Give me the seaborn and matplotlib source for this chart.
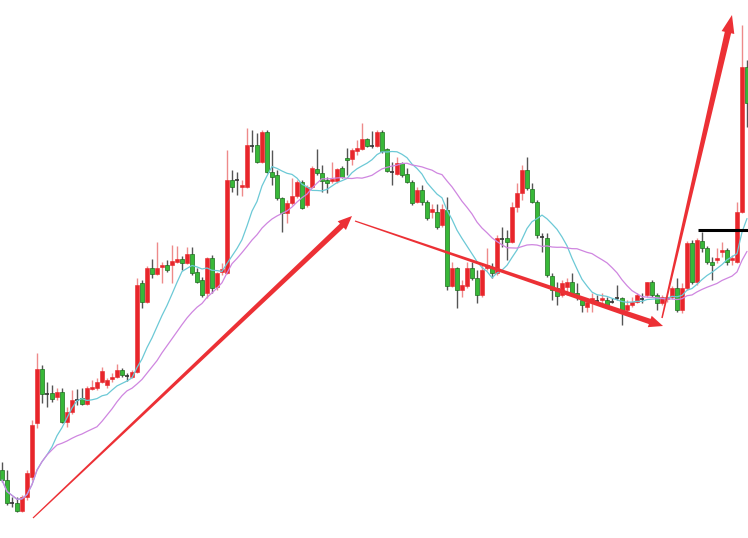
import numpy as np
import pandas as pd
import matplotlib
matplotlib.use("Agg")
import matplotlib.pyplot as plt
from matplotlib.patches import Polygon
import seaborn as sns

# OHLC (one bar per session)
opens = [70, 60, 38, 37, 29, 43, 63, 117, 171, 147, 147, 143, 148, 118, 128, 141, 142, 136, 151, 152,
         158, 155, 161, 163, 170, 164, 163, 168, 257, 238, 272, 266, 273, 275, 275, 278, 281, 277, 286, 268,
         260, 247, 282, 253, 268, 267, 360, 361, 353, 353, 395, 395, 378, 408, 368, 365, 342, 327, 337, 344,
         358, 335, 353, 371, 367, 360, 359, 359, 372, 382, 381, 389, 391, 401, 395, 394, 408, 391, 369, 366,
         377, 366, 358, 338, 350, 338, 328, 328, 315, 330, 254, 272, 250, 254, 272, 262, 245, 272, 272, 267,
         302, 302, 298, 333, 347, 370, 351, 338, 304, 302, 264, 252, 245, 253, 258, 247, 240, 233, 240, 240,
         240, 240, 239, 242, 242, 230, 235, 238, 242, 245, 258, 245, 237, 241, 243, 252, 230, 252, 297, 258,
         299, 292, 278, 280, 288, 290, 280, 278, 328, 473]
closes = [60, 37, 37, 29, 43, 67, 115, 171, 146, 146, 141, 148, 118, 128, 140, 140, 136, 152, 153, 158,
          169, 160, 163, 170, 165, 164, 168, 255, 238, 272, 266, 272, 275, 270, 279, 281, 277, 286, 267, 258,
          245, 282, 252, 267, 271, 360, 353, 360, 355, 395, 394, 378, 408, 368, 363, 342, 327, 337, 344, 358,
          332, 353, 372, 367, 359, 357, 361, 371, 363, 380, 390, 392, 401, 394, 394, 408, 389, 369, 368, 377,
          365, 358, 337, 350, 338, 322, 331, 313, 331, 254, 272, 250, 255, 272, 262, 245, 270, 275, 267, 302,
          301, 298, 333, 347, 370, 352, 338, 305, 303, 265, 250, 244, 257, 258, 247, 243, 235, 238, 242, 239,
          242, 235, 238, 243, 230, 235, 238, 245, 241, 258, 245, 237, 243, 243, 252, 230, 252, 297, 258, 300,
          292, 278, 275, 282, 290, 278, 282, 328, 473, 437]
highs = [78, 70, 43, 43, 45, 70, 120, 187, 175, 158, 155, 152, 152, 133, 150, 151, 152, 154, 160, 162,
         173, 162, 167, 176, 172, 167, 170, 262, 260, 274, 281, 298, 278, 280, 295, 294, 284, 293, 293, 272,
         263, 283, 285, 268, 277, 390, 370, 368, 360, 412, 410, 407, 410, 410, 390, 370, 343, 340, 362, 360,
         360, 355, 374, 391, 375, 363, 378, 372, 374, 392, 392, 400, 417, 402, 409, 410, 410, 392, 378, 383,
         378, 372, 360, 353, 355, 340, 336, 336, 336, 343, 278, 273, 260, 278, 278, 270, 275, 292, 277, 305,
         313, 310, 338, 357, 375, 383, 357, 340, 307, 307, 267, 258, 260, 262, 267, 257, 242, 242, 247, 245,
         247, 243, 242, 255, 243, 240, 243, 247, 247, 258, 260, 247, 245, 244, 254, 262, 257, 299, 300, 302,
         308, 294, 283, 292, 298, 292, 285, 338, 515, 480]
lows = [58, 35, 33, 28, 28, 40, 60, 112, 137, 133, 138, 140, 117, 113, 126, 135, 135, 135, 150, 150,
        157, 152, 158, 162, 163, 159, 162, 167, 232, 237, 262, 265, 257, 268, 257, 277, 270, 276, 265, 257,
        243, 242, 247, 250, 265, 266, 348, 345, 344, 352, 388, 377, 377, 367, 355, 340, 308, 317, 335, 342,
        331, 333, 352, 365, 348, 347, 357, 357, 362, 365, 375, 385, 390, 393, 392, 393, 387, 368, 355, 365,
        363, 357, 335, 337, 335, 320, 322, 311, 313, 250, 253, 232, 243, 252, 260, 237, 243, 270, 262, 265,
        293, 280, 297, 328, 340, 350, 337, 302, 288, 263, 240, 235, 243, 245, 246, 240, 228, 228, 228, 237,
        237, 233, 237, 240, 215, 228, 233, 237, 237, 243, 243, 230, 235, 238, 241, 228, 227, 250, 256, 255,
        288, 276, 260, 277, 283, 275, 275, 277, 327, 413]

# trend arrows drawn on the chart: (start bar, start price, end bar, end price)
arrow_start = [(6.2, 22), (70.6, 319), (132.0, 222)]
arrow_end = [(70.0, 324), (132.2, 214), (146.0, 525)]
resistance = (139.2, 310)

df = pd.DataFrame({"open": opens, "high": highs, "low": lows, "close": closes})
df["bar"] = np.arange(len(df))
df["ma_fast"] = df["close"].rolling(10, min_periods=1).mean()
df["ma_slow"] = df["close"].rolling(20, min_periods=1).mean()

sns.set_style("white")
fig = plt.figure(figsize=(7.48, 5.38), dpi=100)
ax = fig.add_axes([0, 0, 1, 1])
ax.set_xlim(-0.4, 149.2)
ax.set_ylim(2, 540)
ax.axis("off")

up = df["close"] > df["open"]
down = df["close"] < df["open"]
doji = (df["close"] - df["open"]).abs() <= 1

red, red_wick = "#e8262b", "#ee8a8a"
green, green_edge = "#38b838", "#1d6e1d"

# wicks
ax.vlines(df["bar"][up & ~doji], df["low"][up & ~doji], df["high"][up & ~doji], color=red_wick, lw=1.0, zorder=1)
ax.vlines(df["bar"][~up | doji], df["low"][~up | doji], df["high"][~up | doji], color="#555555", lw=1.0, zorder=1)

# bodies
w = 0.64
u = df[up & ~doji]
ax.bar(u["bar"], u["close"] - u["open"], bottom=u["open"], width=w, color=red, edgecolor=red, lw=0.4, zorder=2)
d = df[down & ~doji]
ax.bar(d["bar"], d["open"] - d["close"], bottom=d["close"], width=w, color=green, edgecolor=green_edge, lw=0.5, zorder=2)
z = df[doji]
ax.hlines((z["open"] + z["close"]) / 2, z["bar"] - w / 2, z["bar"] + w / 2, color="#333333", lw=1.2, zorder=2)

# moving averages
sns.lineplot(data=df, x="bar", y="ma_fast", color="#6cc9d6", lw=0.9, ax=ax, zorder=3)
sns.lineplot(data=df, x="bar", y="ma_slow", color="#cf86e0", lw=0.9, ax=ax, zorder=3)
ax.set_xlim(-0.4, 149.2)
ax.set_ylim(2, 540)


def tapered_arrow(start, end, t0, t1, hw, hl):
    # widths in pixels, built in display space then mapped back to data
    p0 = ax.transData.transform(start)
    p1 = ax.transData.transform(end)
    v = p1 - p0
    u_ = v / np.hypot(*v)
    n = np.array([-u_[1], u_[0]])
    base = p1 - u_ * hl
    pts = [p0 + n * t0 / 2, base + n * t1 / 2, base + n * hw / 2, p1,
           base - n * hw / 2, base - n * t1 / 2, p0 - n * t0 / 2]
    pts = ax.transData.inverted().transform(np.array(pts))
    ax.add_patch(Polygon(pts, closed=True, color="#ec3035", lw=0, zorder=4))


tapered_arrow(arrow_start[0], arrow_end[0], 1.2, 5.5, 12, 14)
tapered_arrow(arrow_start[1], arrow_end[1], 1.2, 5.5, 12, 14)
tapered_arrow(arrow_start[2], arrow_end[2], 1.5, 6.5, 13, 18)

ax.hlines(resistance[1], resistance[0], len(df) + 2, color="black", lw=2.2, zorder=5)

fig.savefig("out.png", dpi=100, facecolor="white")
